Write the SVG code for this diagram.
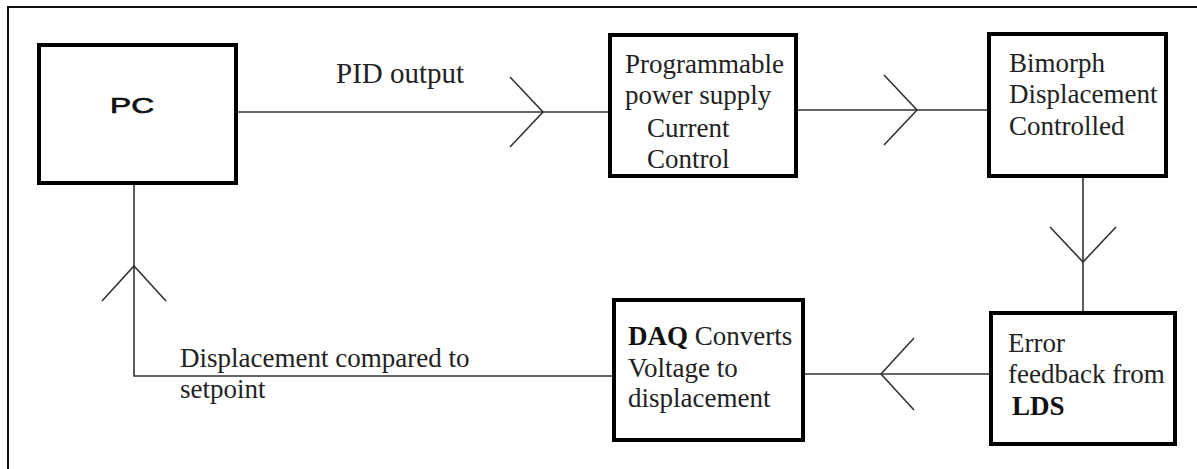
<svg xmlns="http://www.w3.org/2000/svg" width="1197" height="469" viewBox="0 0 1197 469">
<style>
.box{fill:#fff;stroke:#000;stroke-width:4}
.ln{fill:none;stroke:#333;stroke-width:1.6}
.t{font-family:"Liberation Serif",serif;font-size:27px;fill:#222}
.b{font-weight:bold;fill:#111}
</style>
<rect x="0" y="0" width="1197" height="469" fill="#fff"/>
<rect x="8" y="7" width="1200" height="480" fill="none" stroke="#111" stroke-width="2"/>
<g id="connectors">
<line class="ln" x1="238" y1="112" x2="608" y2="112"/>
<polyline class="ln" points="510,77 543,112 510,147"/>
<line class="ln" x1="798" y1="110" x2="987" y2="110"/>
<polyline class="ln" points="884,75 917,110 884,145"/>
<line class="ln" x1="1083" y1="178" x2="1083" y2="311"/>
<polyline class="ln" points="1050,227 1083,262 1116,227"/>
<line class="ln" x1="989" y1="374" x2="805" y2="374"/>
<polyline class="ln" points="914,338 881,374 914,410"/>
<polyline class="ln" points="612,376 134,376 134,185"/>
<polyline class="ln" points="102,301 134,266 166,301"/>
<text class="t" x="336" y="83" style="font-size:29px">PID output</text>
<text class="t" x="180" y="367">Displacement compared to</text>
<text class="t" x="180" y="398">setpoint</text>
</g>
<g id="pc">
<rect class="box" x="39" y="45" width="197" height="138"/>
<text x="110" y="113" font-family="Liberation Sans,Arial,sans-serif" font-size="22" fill="#111" stroke="#111" stroke-width="0.7" textLength="44" lengthAdjust="spacingAndGlyphs">PC</text>
</g>
<g id="pps">
<rect class="box" x="610" y="35" width="186" height="141"/>
<text class="t" x="625" y="73">Programmable</text>
<text class="t" x="625" y="104">power supply</text>
<text class="t" x="647" y="137">Current</text>
<text class="t" x="647" y="168">Control</text>
</g>
<g id="bimorph">
<rect class="box" x="989" y="34" width="177" height="142"/>
<text class="t" x="1009" y="72">Bimorph</text>
<text class="t" x="1009" y="103">Displacement</text>
<text class="t" x="1009" y="135">Controlled</text>
</g>
<g id="lds">
<rect class="box" x="991" y="313" width="184" height="131"/>
<text class="t" x="1008" y="352">Error</text>
<text class="t" x="1008" y="383">feedback from</text>
<text class="t b" x="1012" y="415">LDS</text>
</g>
<g id="daq">
<rect class="box" x="614" y="300" width="189" height="140"/>
<text class="t" x="628" y="345"><tspan class="b">DAQ</tspan> Converts</text>
<text class="t" x="628" y="377">Voltage to</text>
<text class="t" x="628" y="407">displacement</text>
</g>
</svg>
